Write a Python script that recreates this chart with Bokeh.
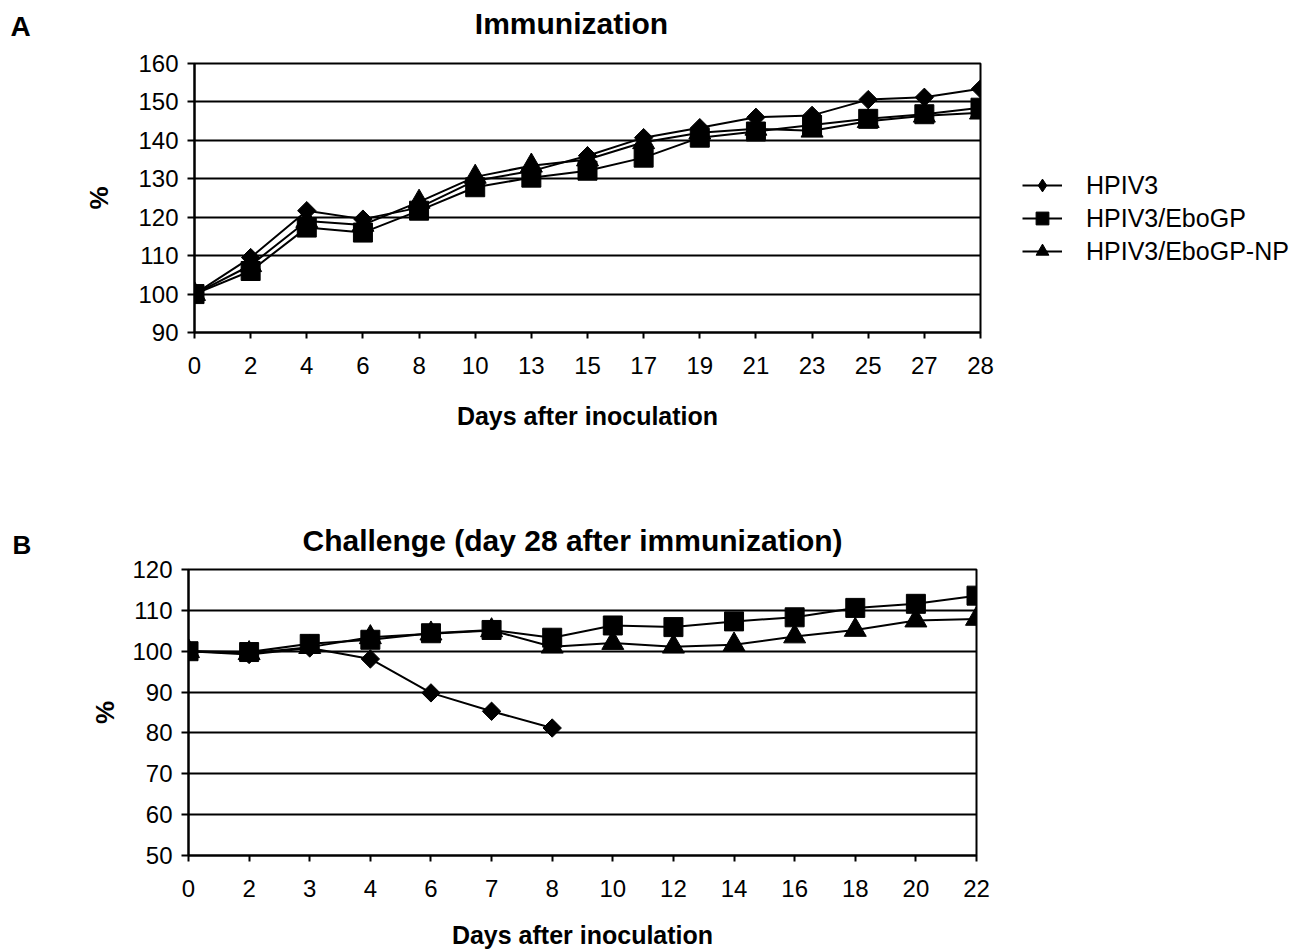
import math
from bokeh.plotting import figure
from bokeh.models import (Range1d, FixedTicker, Legend, LegendItem, Label, Title)
from bokeh.layouts import column
from bokeh.embed import file_html
from bokeh.resources import INLINE

# ---------------- data ----------------
days_a = ["0", "2", "4", "6", "8", "10", "13", "15", "17", "19", "21", "23", "25", "27", "28"]
hpiv3_a = [100, 109.5, 121.7, 119.5, 122.5, 129.5, 132.0, 136.0, 140.7, 143.3, 146.0, 146.5, 150.6, 151.2, 153.4]
ebogp_a = [100, 106.0, 117.3, 116.0, 121.7, 127.8, 130.3, 132.1, 135.5, 140.7, 142.3, 144.0, 145.6, 146.8, 148.5]
ebogpnp_a = [100, 107.5, 119.0, 118.0, 124.0, 130.5, 133.4, 135.0, 139.5, 142.0, 143.0, 142.5, 145.0, 146.4, 147.2]

days_b = ["0", "2", "3", "4", "6", "7", "8", "10", "12", "14", "16", "18", "20", "22"]
hpiv3_b = [100, 99.2, 100.8, 98.1, 89.8, 85.3, 81.2]
ebogp_b = [100, 99.8, 101.8, 102.8, 104.4, 105.2, 103.3, 106.3, 105.9, 107.3, 108.3, 110.6, 111.6, 113.6]
ebogpnp_b = [100, 99.5, 101.0, 103.4, 104.3, 105.1, 101.1, 102.0, 101.1, 101.6, 103.6, 105.2, 107.5, 107.9]

series_names = ["HPIV3", "HPIV3/EboGP", "HPIV3/EboGP-NP"]

FONT = "Liberation Sans"


def style(p, ymin, ymax, ystep, n):
    p.x_range = Range1d(0, n - 1)
    p.y_range = Range1d(ymin, ymax)
    p.xgrid.visible = False
    p.ygrid.grid_line_color = "black"
    p.ygrid.grid_line_width = 2
    p.ygrid.ticker = FixedTicker(ticks=list(range(ymin, ymax + 1, ystep)))
    p.outline_line_color = "black"
    p.outline_line_width = 2
    for ax in (p.xaxis[0], p.yaxis[0]):
        ax.axis_line_color = "black"
        ax.axis_line_width = 2
        ax.major_tick_line_color = "black"
        ax.major_tick_line_width = 2
        ax.major_tick_in = 0
        ax.minor_tick_line_color = None
        ax.major_label_text_font = FONT
        ax.major_label_text_font_size = "24px"
        ax.major_label_text_color = "black"
        ax.axis_label_text_font = FONT
        ax.axis_label_text_font_style = "bold"
        ax.axis_label_text_color = "black"
    p.yaxis[0].ticker = FixedTicker(ticks=list(range(ymin, ymax + 1, ystep)))
    p.yaxis[0].major_tick_out = 7
    p.yaxis[0].major_label_standoff = 9
    p.yaxis[0].axis_label = "%"
    p.yaxis[0].axis_label_text_font_size = "26px"
    p.xaxis[0].major_tick_out = 6
    p.xaxis[0].major_label_standoff = 18
    p.xaxis[0].axis_label = "Days after inoculation"
    p.xaxis[0].axis_label_text_font_size = "25px"
    p.xaxis[0].axis_label_standoff = 25
    p.background_fill_color = "white"
    p.border_fill_color = "white"


def add_series(p, vals_list):
    rends = []
    for name, vals in zip(series_names, vals_list):
        xs = list(range(len(vals)))
        ln = p.line(xs, vals, line_color="black", line_width=2)
        if name == "HPIV3":
            # diamond drawn beneath the rotated square; it supplies the legend glyph
            proxy = p.scatter(xs, vals, marker="diamond", size=13,
                              fill_color="black", line_color="black")
            p.scatter(xs, vals, marker="square", angle=math.pi / 4, size=13,
                      fill_color="black", line_color="black")
            rends.append((name, [ln, proxy]))
        elif name == "HPIV3/EboGP":
            mk = p.scatter(xs, vals, marker="square", size=19,
                           fill_color="black", line_color="black")
            rends.append((name, [ln, mk]))
        else:
            mk = p.scatter(xs, vals, marker="triangle", size=22,
                           fill_color="black", line_color="black")
            rends.append((name, [ln, mk]))
    return rends


# ---------------- Panel A ----------------
pa = figure(frame_width=786, frame_height=269, min_border_left=194, min_border_right=312,
            min_border_top=63, min_border_bottom=150, output_backend="svg",
            toolbar_location=None, title=None)
style(pa, 90, 160, 10, len(days_a))
pa.xaxis[0].ticker = FixedTicker(ticks=list(range(len(days_a))))
pa.xaxis[0].major_label_overrides = {i: d for i, d in enumerate(days_a)}
pa.yaxis[0].axis_label_standoff = 21
rends_a = add_series(pa, [hpiv3_a, ebogp_a, ebogpnp_a])
pa.add_layout(Label(x=6.715, y=170.4, text="Immunization", text_align="center",
                    text_font=FONT, text_font_size="30px", text_font_style="bold",
                    text_color="black", text_baseline="alphabetic"), "below")
pa.add_layout(Label(x=-3.277, y=169.6, text="A",
                    text_font=FONT, text_font_size="28px", text_font_style="bold",
                    text_color="black", text_baseline="alphabetic"), "left")

legend = Legend(items=[LegendItem(label=n, renderers=r) for n, r in rends_a],
                location=(42, 65), orientation="vertical",
                glyph_width=40, glyph_height=32, label_height=32, spacing=1,
                label_standoff=24, padding=0, margin=0,
                label_text_font=FONT, label_text_font_size="25px",
                label_text_color="black", border_line_color=None,
                background_fill_alpha=0)
pa.add_layout(legend, "right")

# ---------------- Panel B ----------------
pb = figure(frame_width=788, frame_height=286, min_border_left=188, min_border_right=316,
            min_border_top=87, min_border_bottom=93, output_backend="svg",
            toolbar_location=None, title=None)
style(pb, 50, 120, 10, len(days_b))
pb.xaxis[0].ticker = FixedTicker(ticks=list(range(len(days_b))))
pb.xaxis[0].major_label_overrides = {i: d for i, d in enumerate(days_b)}
pb.xaxis[0].axis_label_standoff = 21
pb.yaxis[0].axis_label_standoff = 9
add_series(pb, [hpiv3_b, ebogp_b, ebogpnp_b])
pb.add_layout(Title(text="Challenge (day 28 after immunization)", align="left", offset=114,
                    text_font=FONT, text_font_size="30px", text_font_style="bold",
                    text_color="black", standoff=25), "above")
pb.add_layout(Label(x=-2.904, y=126.1, text="B",
                    text_font=FONT, text_font_size="26px", text_font_style="bold",
                    text_color="black", text_baseline="alphabetic"), "left")

layout = column(column(pa), column(pb), spacing=0)
open("out.html", "w").write(file_html(layout, INLINE))
